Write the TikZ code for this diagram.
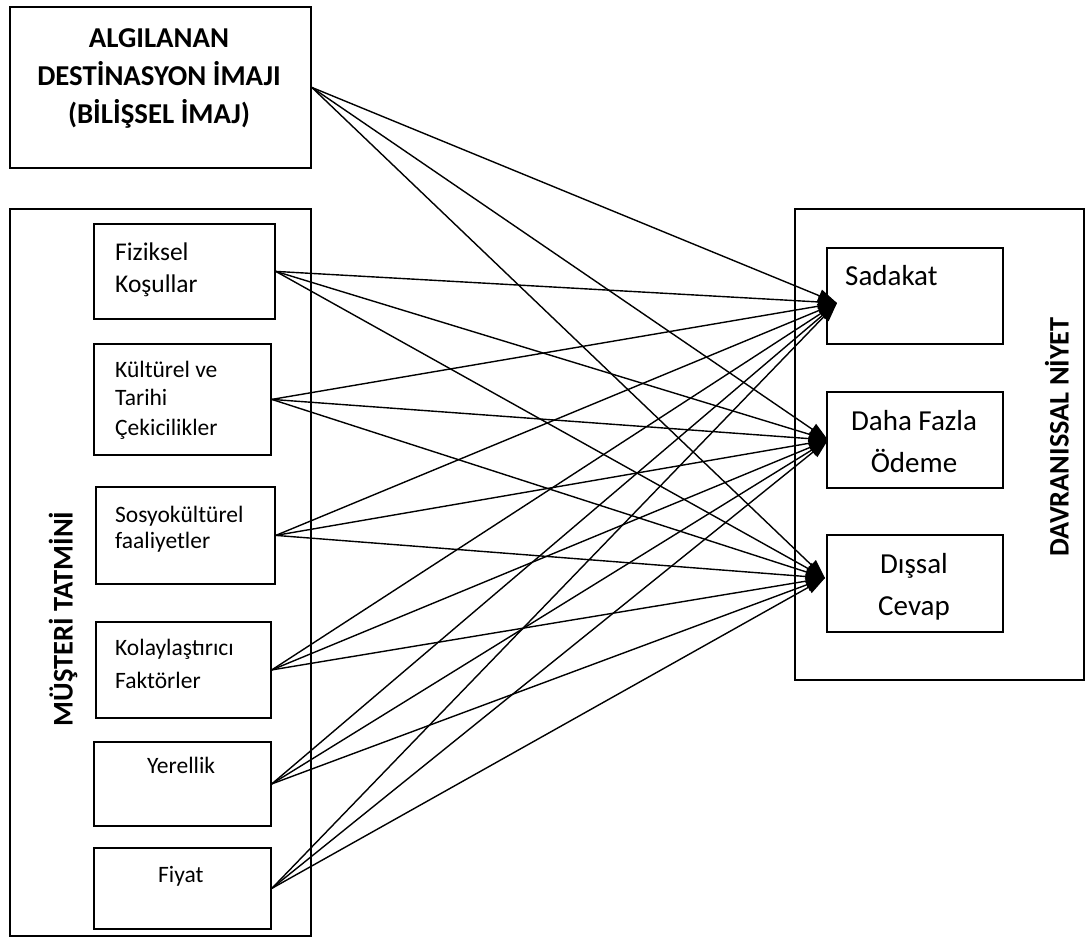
\documentclass[tikz,border=0pt]{standalone}
\usepackage{fontspec}
\setmainfont{Carlito}
\usetikzlibrary{arrows.meta}
\begin{document}
\begin{tikzpicture}[x=1pt,y=-1pt,
  frame/.style={draw,line width=1.8pt,inner sep=0pt,anchor=north west},
  lbl/.style={inner sep=0pt,anchor=base west},
  clbl/.style={inner sep=0pt,anchor=base},
  big/.style={font=\fontsize{29}{35}\selectfont},
  mid/.style={font=\fontsize{25.5}{30}\selectfont},
  small/.style={font=\fontsize{23.5}{28}\selectfont},
  head/.style={font=\bfseries\fontsize{28.8}{35}\selectfont},
  link/.style={line width=1.4pt,-{Triangle[length=19pt,width=13pt]}}]
\useasboundingbox (0,0) rectangle (1085,945);

% image box at the top
\node[frame,minimum width=301pt,minimum height=161pt] (img) at (9,6) {};
\node[clbl,head] (img1) at (159,47) {ALGILANAN};
\node[clbl,head] (img2) at (159,85) {DESTİNASYON İMAJI};
\node[clbl,head] (img3) at (159,123) {(BİLİŞSEL İMAJ)};

% satisfaction group
\node[frame,minimum width=301pt,minimum height=727pt] (sat) at (9,208) {};
\node[inner sep=0pt,rotate=90,font=\bfseries\fontsize{28.5}{34}\selectfont] (satlbl) at (63,619) {MÜŞTERİ TATMİNİ};

\node[frame,minimum width=181pt,minimum height=95pt] (fiz) at (93,223) {};
\node[lbl,mid] (fiz1) at (115,260) {Fiziksel};
\node[lbl,mid] (fiz2) at (115,292) {Koşullar};

\node[frame,minimum width=177pt,minimum height=111pt] (kul) at (93,343) {};
\node[lbl,small] (kul1) at (115,377) {Kültürel ve};
\node[lbl,small] (kul2) at (115,405) {Tarihi};
\node[lbl,small] (kul3) at (115,435) {Çekicilikler};

\node[frame,minimum width=179pt,minimum height=97pt] (sos) at (95,486) {};
\node[lbl,small] (sos1) at (115,522) {Sosyokültürel};
\node[lbl,small] (sos2) at (115,548) {faaliyetler};

\node[frame,minimum width=175pt,minimum height=96pt] (kol) at (95,621) {};
\node[lbl,small] (kol1) at (115,655) {Kolaylaştırıcı};
\node[lbl,small] (kol2) at (115,688) {Faktörler};

\node[frame,minimum width=177pt,minimum height=84pt] (yer) at (93,741) {};
\node[lbl,small] (yer1) at (147,773) {Yerellik};

\node[frame,minimum width=177pt,minimum height=81pt] (fiy) at (93,847) {};
\node[lbl,small] (fiy1) at (158,882) {Fiyat};

% behavioural intention group
\node[frame,minimum width=289pt,minimum height=471pt] (dav) at (794,208) {};
\node[inner sep=0pt,rotate=90,font=\bfseries\fontsize{28.3}{34}\selectfont] (davlbl) at (1057,437) {DAVRANISSAL NİYET};

\node[frame,minimum width=176pt,minimum height=96pt] (sad) at (826,247) {};
\node[lbl,big] (sad1) at (845,285) {Sadakat};

\node[frame,minimum width=176pt,minimum height=96pt] (oda) at (826,391) {};
\node[clbl,big] (oda1) at (914,430) {Daha Fazla};
\node[clbl,big] (oda2) at (914,472) {Ödeme};

\node[frame,minimum width=176pt,minimum height=97pt] (dis) at (826,534) {};
\node[clbl,big] (dis1) at (914,573) {Dışsal};
\node[clbl,big] (dis2) at (914,615) {Cevap};

% arrow end points inside the outcome boxes
\coordinate (tsad) at (837,303);
\coordinate (toda) at (828,440);
\coordinate (tdis) at (825,578);

% every driver points to every outcome
\foreach \src in {img,fiz,kul,sos,kol,yer,fiy}{
  \foreach \dst in {tsad,toda,tdis}{
    \draw[link] (\src.east) -- (\dst);
  }
}
\end{tikzpicture}
\end{document}
